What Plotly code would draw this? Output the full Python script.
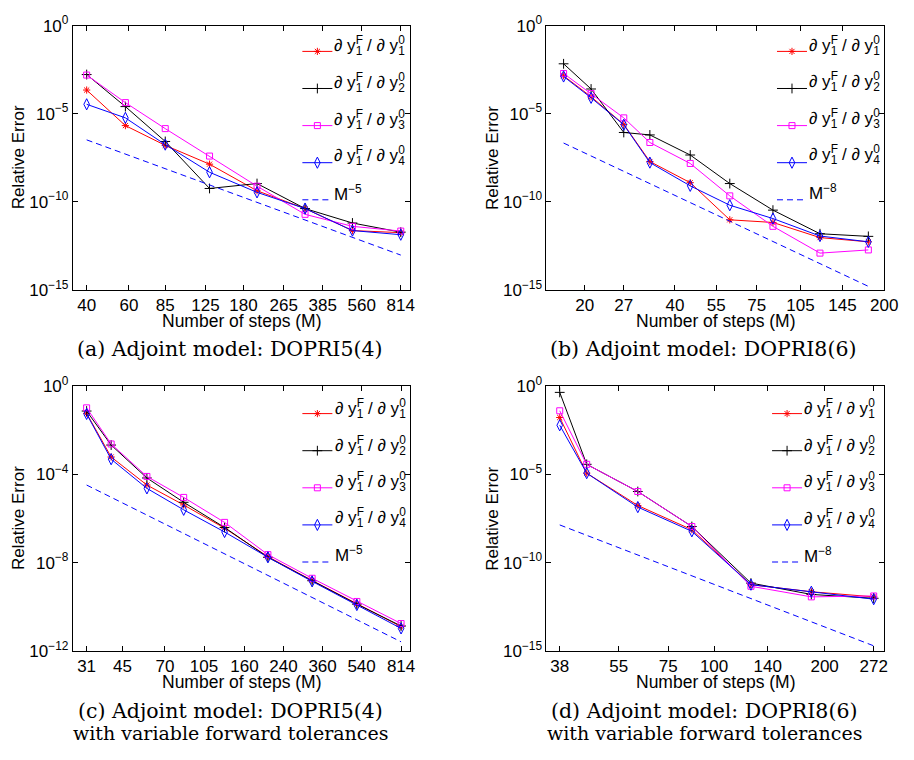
import plotly.graph_objects as go

# ---------------- data ----------------
# (a) DOPRI5(4) adjoint
steps_a = [40, 58, 85, 130, 205, 325, 512, 814]
err_a_1 = [2.19e-4, 2.09e-6, 1.58e-7, 1.35e-8, 4.17e-10, 4.07e-11, 2.29e-12, 1.74e-12]
err_a_2 = [1.66e-3, 2.51e-5, 2.63e-7, 5.62e-10, 1.07e-9, 4.07e-11, 6.17e-12, 1.86e-12]
err_a_3 = [1.55e-3, 4.22e-5, 1.41e-6, 3.89e-8, 7.59e-10, 1.91e-11, 3.98e-12, 2.14e-12]
err_a_4 = [3.39e-5, 5.75e-6, 1.74e-7, 4.68e-9, 3.39e-10, 4.07e-11, 2.29e-12, 1.33e-12]
ref_a = [3.24e-7, 5.05e-8, 7.46e-9, 8.92e-10, 9.12e-11, 9.12e-12, 9.42e-13, 9.27e-14]
ticks_a = [40, 60, 85, 125, 180, 265, 385, 560, 814]

# (b) DOPRI8(6) adjoint
steps_b = [17, 21, 27, 33, 45, 61, 85, 122, 177]
err_b_1 = [1.41e-3, 9.12e-5, 2.45e-6, 1.91e-8, 1.20e-9, 9.33e-12, 6.61e-12, 9.12e-13, 5.25e-13]
err_b_2 = [6.76e-3, 2.51e-4, 8.51e-7, 6.17e-7, 4.47e-8, 1.07e-9, 3.31e-11, 1.51e-12, 1.07e-12]
err_b_3 = [1.91e-3, 1.38e-4, 5.75e-6, 2.29e-7, 1.48e-8, 2.14e-10, 3.98e-12, 1.20e-13, 1.82e-13]
err_b_4 = [1.29e-3, 7.94e-5, 2.34e-6, 1.66e-8, 7.94e-10, 6.31e-11, 1.10e-11, 1.12e-12, 5.25e-13]
ref_b = [2.14e-7, 3.94e-8, 5.28e-9, 1.06e-9, 8.87e-11, 7.78e-12, 5.47e-13, 3.04e-14, 1.55e-15]
ticks_b = [20, 27, 40, 55, 75, 105, 145, 200]

# (c) DOPRI5(4) adjoint, variable forward tolerances
steps_c = [31, 40, 58, 85, 130, 204, 323, 514, 814]
err_c_1 = [5.70e-2, 6.03e-4, 3.24e-5, 4.07e-6, 3.63e-7, 1.86e-8, 1.55e-9, 1.32e-10, 1.26e-11]
err_c_2 = [7.24e-2, 2.09e-3, 6.76e-5, 5.37e-6, 3.89e-7, 1.74e-8, 1.51e-9, 1.32e-10, 1.35e-11]
err_c_3 = [1.01e-1, 2.34e-3, 7.94e-5, 8.91e-6, 6.61e-7, 2.29e-8, 1.95e-9, 1.74e-10, 1.74e-11]
err_c_4 = [5.37e-2, 4.79e-4, 2.29e-5, 2.45e-6, 2.43e-7, 1.74e-8, 1.41e-9, 1.20e-10, 1.05e-11]
ref_c = [3.24e-5, 9.12e-6, 1.41e-6, 2.09e-7, 2.49e-8, 2.63e-9, 2.64e-10, 2.58e-11, 2.59e-12]
ticks_c = [31, 45, 70, 105, 160, 240, 360, 540, 814]

# (d) DOPRI8(6) adjoint, variable forward tolerances
steps_d = [38, 45, 62, 87, 126, 184, 272]
err_d_1 = [1.62e-2, 1.15e-5, 1.70e-7, 7.24e-9, 5.62e-12, 2.24e-12, 1.15e-12]
err_d_2 = [4.27e-1, 3.63e-5, 1.05e-6, 1.10e-8, 6.92e-12, 1.58e-12, 9.55e-13]
err_d_3 = [3.89e-2, 3.63e-5, 1.05e-6, 1.10e-8, 4.57e-12, 1.15e-12, 1.29e-12]
err_d_4 = [5.89e-3, 1.15e-5, 1.38e-7, 5.89e-9, 5.62e-12, 2.24e-12, 8.51e-13]
ref_d = [1.35e-8, 3.49e-9, 2.69e-10, 1.79e-11, 9.23e-13, 4.47e-14, 1.95e-15]
ticks_d = [38, 55, 75, 100, 140, 200, 272]

captions = [
    ["(a) Adjoint model: DOPRI5(4)"],
    ["(b) Adjoint model: DOPRI8(6)"],
    ["(c) Adjoint model: DOPRI5(4)", "with variable forward tolerances"],
    ["(d) Adjoint model: DOPRI8(6)", "with variable forward tolerances"],
]

# ---------------- styling ----------------
W, H = 914, 760
SANS = "Liberation Sans, Arial, Helvetica, sans-serif"
SERIF = "DejaVu Serif, serif"

series_style = [
    dict(color="#ff0000", symbol="asterisk-open", size=6),
    dict(color="#000000", symbol="cross-thin-open", size=7),
    dict(color="#ff00ff", symbol="square-open", size=6),
    dict(color="#0000ff", symbol="diamond-tall-open", size=8),
]


def deriv_label(k):
    # stacked super/subscript: negative letter-spacing pulls the subscript under the superscript
    sp_f = "letter-spacing:-7.2px"
    sp_0 = "letter-spacing:-6.6px"
    return (f"∂ y<sup><span style='{sp_f}'>F</span></sup><sub>1</sub> / "
            f"∂ y<sup><span style='{sp_0}'>0</span></sup><sub>{k}</sub>")


def px_x(p):
    return p / W


def px_y(p):
    return 1 - p / H


panels = [
    dict(steps=steps_a, errs=[err_a_1, err_a_2, err_a_3, err_a_4], ref=ref_a, order="5",
         ticks=ticks_a, xr=[1.5446, 2.9475], yr=[-15, 0], ydec=5,
         box=(74, 416, 14, 286), leg_x=307, leg_text_x=337,
         leg_rows=[40, 78, 116, 153, 187], cap_x=234, cap_y=[347]),
    dict(steps=steps_b, errs=[err_b_1, err_b_2, err_b_3, err_b_4], ref=ref_b, order="8",
         ticks=ticks_b, xr=[1.1734, 2.3010], yr=[-15, 0], ydec=5,
         box=(555, 898, 14, 286), leg_x=789, leg_text_x=820,
         leg_rows=[40, 77, 115, 152, 186], cap_x=714, cap_y=[347]),
    dict(steps=steps_c, errs=[err_c_1, err_c_2, err_c_3, err_c_4], ref=ref_c, order="5",
         ticks=ticks_c, xr=[1.4293, 2.9492], yr=[-12, 0], ydec=4,
         box=(74, 416, 385, 658), leg_x=307, leg_text_x=338,
         leg_rows=[413, 451, 488, 526, 559], cap_x=234, cap_y=[720, 743]),
    dict(steps=steps_d, errs=[err_d_1, err_d_2, err_d_3, err_d_4], ref=ref_d, order="8",
         ticks=ticks_d, xr=[1.5438, 2.4633], yr=[-15, 0], ydec=5,
         box=(555, 898, 385, 658), leg_x=784, leg_text_x=814,
         leg_rows=[413, 451, 489, 527, 560], cap_x=715, cap_y=[720, 743]),
]

fig = go.Figure()
layout = dict(
    width=W, height=H,
    margin=dict(l=0, r=0, t=0, b=0),
    paper_bgcolor="white", plot_bgcolor="white",
    font=dict(family=SANS, size=17, color="black"),
    showlegend=True,
)
annotations = []

for i, p in enumerate(panels):
    n = "" if i == 0 else str(i + 1)
    xa, ya = "x" + n, "y" + n
    leg = "legend" + n
    labels = [deriv_label(k + 1) for k in range(4)] + [f"M<sup>−{p['order']}</sup>"]
    for k, (err, st) in enumerate(zip(p["errs"], series_style)):
        fig.add_trace(go.Scatter(
            x=p["steps"], y=err, xaxis=xa, yaxis=ya, legend=leg,
            legendgroup=f"{i}-{k}",
            mode="lines+markers", name="",
            line=dict(color=st["color"], width=1),
            marker=dict(symbol=st["symbol"], size=st["size"], color=st["color"],
                        line=dict(width=1, color=st["color"])),
        ))
    fig.add_trace(go.Scatter(
        x=p["steps"], y=p["ref"], xaxis=xa, yaxis=ya, legend=leg,
        legendgroup=f"{i}-ref",
        mode="lines", name="",
        line=dict(color="#0000ff", width=1, dash="6px,4px"),
    ))

    l, r, t, b = p["box"]
    ydecs = list(range(p["yr"][0], p["yr"][1] + 1, p["ydec"]))
    yvals = [10.0 ** e for e in ydecs]
    ytext = [f"10<sup>{'−' if e < 0 else ''}{abs(e)}</sup>" for e in ydecs]
    axis_common = dict(
        showline=True, linecolor="black", linewidth=1, mirror="ticks",
        ticks="inside", ticklen=5, tickwidth=1, tickcolor="black",
        showgrid=False, zeroline=False,
        tickfont=dict(family=SANS, size=17, color="black"),
    )
    layout["xaxis" + n] = dict(
        axis_common, type="log", range=p["xr"], anchor=ya,
        domain=[px_x(l), px_x(r)],
        tickmode="array", tickvals=p["ticks"], ticktext=[str(v) for v in p["ticks"]],
    )
    layout["yaxis" + n] = dict(
        axis_common, type="log", range=p["yr"], anchor=xa,
        domain=[px_y(b), px_y(t)],
        tickmode="array", tickvals=yvals, ticktext=ytext,
    )
    # legend glyphs (line samples); the entry texts are annotations next to them
    rows = p["leg_rows"]
    layout[leg] = dict(
        x=px_x(p["leg_x"] - 5), y=px_y(rows[0] - 17.5), xanchor="left", yanchor="top",
        xref="paper", yref="paper",
        bgcolor="rgba(0,0,0,0)", borderwidth=0,
        font=dict(family=SANS, size=17, color="black"),
        tracegroupgap=12, itemwidth=30,
    )
    for k, (lab, ry) in enumerate(zip(labels, rows)):
        annotations.append(dict(
            text=lab, x=px_x(p["leg_text_x"]), y=px_y(ry - (5 if k < 4 else 1)),
            xref="paper", yref="paper", xanchor="left", yanchor="middle",
            showarrow=False, font=dict(family=SANS, size=17, color="black"),
        ))
    # axis titles
    annotations.append(dict(
        text="Number of steps (M)", x=px_x((l + r) / 2), y=px_y(b + 32),
        xref="paper", yref="paper", xanchor="center", yanchor="middle",
        showarrow=False, font=dict(family=SANS, size=17.5, color="black"),
    ))
    annotations.append(dict(
        text="Relative Error", x=px_x(l - 55), y=px_y((t + b) / 2),
        xref="paper", yref="paper", xanchor="center", yanchor="middle",
        textangle=-90, showarrow=False,
        font=dict(family=SANS, size=17, color="black"),
    ))
    # caption lines below each panel
    for j, (line, cy) in enumerate(zip(captions[i], p["cap_y"])):
        annotations.append(dict(
            text=line, x=px_x(p["cap_x"]), y=px_y(cy), xref="paper", yref="paper",
            xanchor="center", yanchor="middle", showarrow=False,
            font=dict(family=SERIF, size=20.5 if j == 0 else 19, color="black"),
        ))

layout["annotations"] = annotations
fig.update_layout(**layout)
fig.write_html("out.html")
